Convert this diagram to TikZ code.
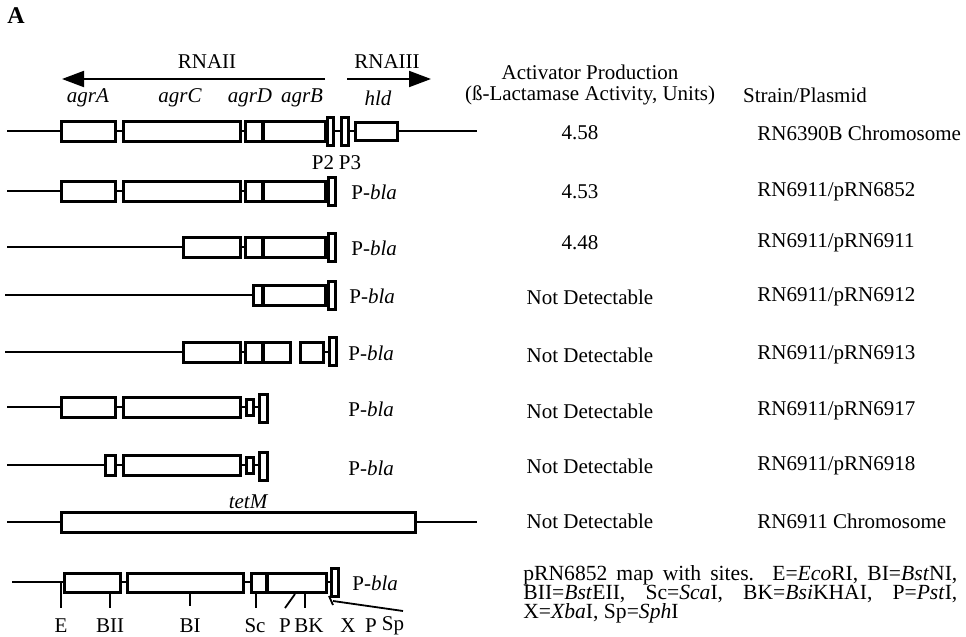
\documentclass[tikz,border=0pt]{standalone}
\usepackage{fontspec}
\setmainfont{Liberation Serif}
\usetikzlibrary{arrows.meta}

\tikzset{
  gene/.style={draw, line width=1.5pt, fill=white},
  dna/.style={line width=0.8pt},
  divider/.style={line width=2.2pt},
  site/.style={line width=0.9pt},
  rna/.style={line width=1pt, -{Triangle[length=11pt,width=8pt]}},
  genename/.style={font=\fontsize{10.5}{12}\selectfont\itshape},
  legend/.style={anchor=base west, font=\fontsize{10.8}{12}\selectfont},
}

\begin{document}
\begin{tikzpicture}[x=0.5pt, y=-0.5pt, every node/.style={font=\fontsize{10.5}{12}\selectfont, inner sep=0pt}]
  \useasboundingbox (0,0) rectangle (966,637);

  % panel letter
  \node[font=\fontsize{12}{14}\selectfont\bfseries] (panel) at (16,16) {A};

  % transcripts
  \node (rnaii) at (207,62) {RNAII};
  \node (rnaiii) at (387,62) {RNAIII};
  \coordinate (iiStart) at (325,79);
  \coordinate (iiEnd) at (62,79);
  \coordinate (iiiStart) at (347,79);
  \coordinate (iiiEnd) at (431,79);
  \draw[rna] (iiStart) -- (iiEnd);
  \draw[rna] (iiiStart) -- (iiiEnd);

  % gene names
  \node[genename] (agrA) at (88,98) {agrA};
  \node[genename] (agrC) at (180,98) {agrC};
  \node[genename] (agrD) at (250,98) {agrD};
  \node[genename] (agrB) at (302,98) {agrB};
  \node[genename] (hld) at (378,98) {hld};

  % column heads
  \node (headA) at (590,72) {Activator Production};
  \node (headB) at (590,95) {(ß-Lactamase Activity, Units)};
  \node (headC) at (805,95) {Strain/Plasmid};

  % row 1: chromosome
  \draw[dna] (7,131) -- (477,131);
  \draw[gene] (61,121) rectangle (115,141);
  \draw[gene] (123,121) rectangle (240,141);
  \draw[gene] (245,121) rectangle (325,141);
  \draw[divider] (263,121) -- (263,141);
  \draw[gene] (327,117) rectangle (333,145);
  \draw[gene] (341,117) rectangle (348,145);
  \draw[gene] (355,122) rectangle (397,140);
  \node (ptwo) at (323,163) {P2};
  \node (pthree) at (350,163) {P3};

  % row 2
  \draw[dna] (7,191) -- (331,191);
  \draw[gene] (61,181) rectangle (115,201);
  \draw[gene] (123,181) rectangle (240,201);
  \draw[gene] (245,181) rectangle (325,201);
  \draw[divider] (263,181) -- (263,201);
  \draw[gene] (328,177) rectangle (335,205);
  \node[anchor=west] (bla2) at (351,192) {P-\textit{bla}};

  % row 3
  \draw[dna] (7,247) -- (331,247);
  \draw[gene] (183,237) rectangle (240,257);
  \draw[gene] (245,237) rectangle (325,257);
  \draw[divider] (263,237) -- (263,257);
  \draw[gene] (328,233) rectangle (335,261);
  \node[anchor=west] (bla3) at (351,248) {P-\textit{bla}};

  % row 4
  \draw[dna] (5,295) -- (331,295);
  \draw[gene] (253,285) rectangle (325,305);
  \draw[divider] (263,285) -- (263,305);
  \draw[gene] (328,281) rectangle (335,309);
  \node[anchor=west] (bla4) at (349,296) {P-\textit{bla}};

  % row 5
  \draw[dna] (5,352) -- (290,352);
  \draw[dna] (300,352) -- (332,352);
  \draw[gene] (183,342) rectangle (240,362);
  \draw[gene] (245,342) rectangle (290,362);
  \draw[divider] (263,342) -- (263,362);
  \draw[gene] (300,342) rectangle (323,362);
  \draw[gene] (329,337) rectangle (336,365);
  \node[anchor=west] (bla5) at (348,353) {P-\textit{bla}};

  % row 6
  \draw[dna] (7,407) -- (263,407);
  \draw[gene] (61,397) rectangle (115,417);
  \draw[gene] (123,397) rectangle (240,417);
  \draw[gene] (246,399) rectangle (253,415);
  \draw[gene] (259,394) rectangle (267,422);
  \node[anchor=west] (bla6) at (348,409) {P-\textit{bla}};

  % row 7
  \draw[dna] (7,465) -- (263,465);
  \draw[gene] (105,455) rectangle (115,475);
  \draw[gene] (123,455) rectangle (240,475);
  \draw[gene] (246,457) rectangle (253,473);
  \draw[gene] (259,452) rectangle (267,480);
  \node[anchor=west] (bla7) at (348,468) {P-\textit{bla}};

  % row 8: tetM insertion
  \draw[dna] (7,522) -- (477,522);
  \draw[gene] (61,512) rectangle (415,532);
  \node[genename] (tetM) at (248,502) {tetM};

  % row 9: map with sites
  \draw[dna] (12,582) -- (334,582);
  \draw[gene] (64,573) rectangle (120,592);
  \draw[gene] (127,573) rectangle (243,592);
  \draw[gene] (251,573) rectangle (326,592);
  \draw[divider] (267,573) -- (267,592);
  \draw[gene] (331,568) rectangle (338,596);
  \node[anchor=west] (bla9) at (352,583) {P-\textit{bla}};

  % sites
  \draw[site] (61,582) -- (61,608);
  \draw[site] (110,593) -- (110,608);
  \draw[site] (190,593) -- (190,606);
  \draw[site] (256,593) -- (256,608);
  \draw[site] (285,608) -- (295,594);
  \draw[site] (305,593) -- (305,608);
  \draw[site] (329,596) -- (333,605);
  \draw[site] (333,601) -- (403,611);
  \node (sE) at (61,626) {E};
  \node (sBII) at (110,626) {BII};
  \node (sBI) at (190,626) {BI};
  \node (sSc) at (255,626) {Sc};
  \node (sP) at (285,626) {P};
  \node (sBK) at (309,626) {BK};
  \node (sX) at (348,626) {X};
  \node (sPb) at (371,626) {P};
  \node (sSp) at (393,626) {Sp};

  % activity values
  \node (act1) at (580,133) {4.58};
  \node (act2) at (580,192) {4.53};
  \node (act3) at (580,243) {4.48};
  \node (act4) at (590,297) {Not Detectable};
  \node (act5) at (590,355) {Not Detectable};
  \node (act6) at (590,411) {Not Detectable};
  \node (act7) at (590,466) {Not Detectable};
  \node (act8) at (590,521) {Not Detectable};

  % strains
  \node[anchor=west] (str1) at (757,133) {RN6390B Chromosome};
  \node[anchor=west] (str2) at (757,192) {RN6911/pRN6852};
  \node[anchor=west] (str3) at (757,243) {RN6911/pRN6911};
  \node[anchor=west] (str4) at (757,297) {RN6911/pRN6912};
  \node[anchor=west] (str5) at (757,355) {RN6911/pRN6913};
  \node[anchor=west] (str6) at (757,411) {RN6911/pRN6917};
  \node[anchor=west] (str7) at (757,466) {RN6911/pRN6918};
  \node[anchor=west] (str8) at (757,521) {RN6911 Chromosome};

  % legend (justified lines)
  \node[legend] (legA) at (523,580) {\makebox[217pt][s]{pRN6852 map with sites. E=\textit{Eco}RI, BI=\textit{Bst}NI,}};
  \node[legend] (legB) at (523,599) {\makebox[217pt][s]{BII=\textit{Bst}EII, Sc=\textit{Sca}I, BK=\textit{Bsi}KHAI, P=\textit{Pst}I,}};
  \node[legend] (legC) at (523,618) {X=\textit{Xba}I, Sp=\textit{Sph}I};
\end{tikzpicture}
\end{document}
